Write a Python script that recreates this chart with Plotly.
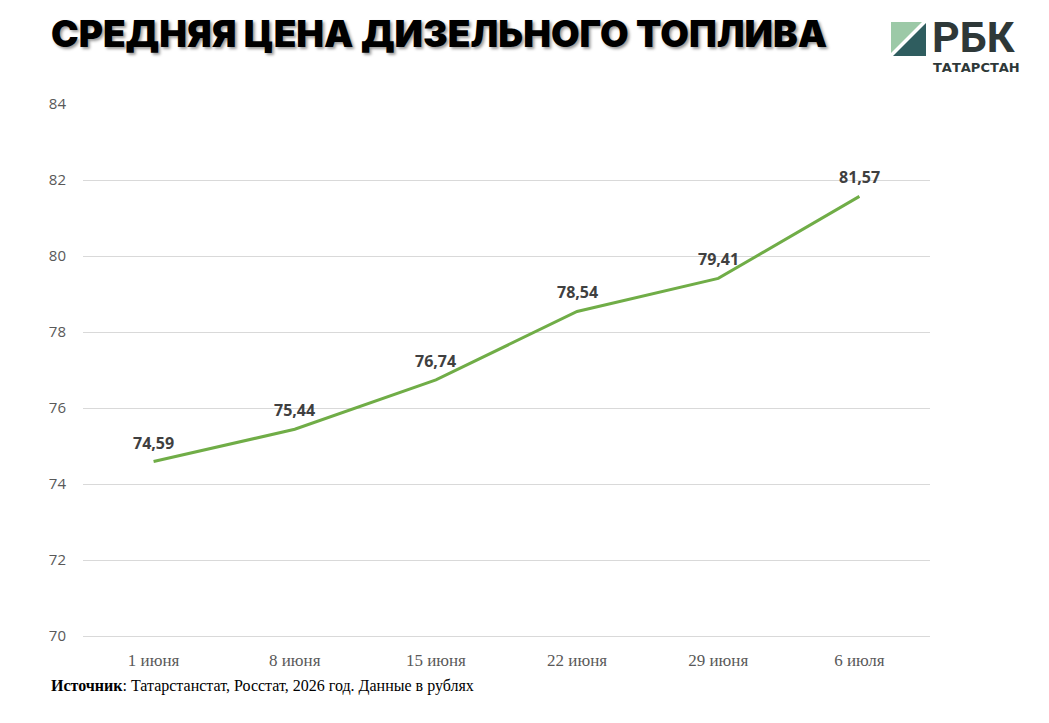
import plotly.graph_objects as go

# data
dates = ["1 июня", "8 июня", "15 июня", "22 июня", "29 июня", "6 июля"]
prices = [74.59, 75.44, 76.74, 78.54, 79.41, 81.57]
y_ticks = [70, 72, 74, 76, 78, 80, 82, 84]

# page offset (html body margin) and plot box in window pixels
OFF = 8
W, H = 1049, 723
L, R, T, B = 83, 930, 104, 636


def px_x(x):
    return (x - L) / (R - L)


def px_y(y):
    return 1 - (y - T) / (B - T)


fig = go.Figure()

fig.add_trace(go.Scatter(
    x=dates, y=prices, mode="lines",
    line=dict(color="#70AD47", width=3),
    hoverinfo="skip", showlegend=False,
))

# value labels above the points
for d, p in zip(dates, prices):
    fig.add_annotation(
        x=d, y=p, xref="x", yref="y", showarrow=False, yshift=19,
        text=f"{p:.2f}".replace(".", ","),
        font=dict(family="Open Sans", size=16, color="#404040", weight="bold"),
    )

# title
fig.add_annotation(
    x=px_x(49), y=px_y(33), xref="paper", yref="paper",
    text="СРЕДНЯЯ ЦЕНА ДИЗЕЛЬНОГО ТОПЛИВА",
    showarrow=False, xanchor="left", yanchor="middle",
    font=dict(family="Inter", size=37, color="black", weight=900,
              shadow="2px 2px 3px #9a9a9a"),
)

# source line
fig.add_annotation(
    x=px_x(49), y=px_y(686), xref="paper", yref="paper",
    text="<b>Источник</b>: Татарстанстат, Росстат, 2026 год. Данные в рублях",
    showarrow=False, xanchor="left", yanchor="middle",
    font=dict(family="Liberation Serif", size=16, color="black"),
)

# logo
def path(points):
    s = "M " + " L ".join(f"{px_x(a):.5f} {px_y(b):.5f}" for a, b in points)
    return s + " Z"


fig.add_shape(type="path", path=path([(891, 22), (922, 22), (891, 53)]),
              fillcolor="#9CC9A7", line_width=0, xref="paper", yref="paper")
fig.add_shape(type="path", path=path([(926, 23), (926, 56), (893, 56)]),
              fillcolor="#2F5D5F", line_width=0, xref="paper", yref="paper")
fig.add_annotation(
    x=px_x(930), y=px_y(37), xref="paper", yref="paper", text="РБК",
    showarrow=False, xanchor="left", yanchor="middle",
    font=dict(family="Roboto", size=43, color="#2E3838", weight="bold"),
)
fig.add_annotation(
    x=px_x(976), y=px_y(68), xref="paper", yref="paper", text="ТАТАРСТАН",
    showarrow=False, xanchor="center", yanchor="middle",
    font=dict(family="DejaVu Sans", size=13, color="#2E3838", weight="bold"),
)

fig.update_layout(
    width=W, height=H,
    margin=dict(l=L - OFF, r=W + OFF - R, t=T - OFF, b=H + OFF - B),
    paper_bgcolor="white", plot_bgcolor="white",
    showlegend=False,
    xaxis=dict(
        type="category", range=[-0.5, 5.5], showgrid=False, zeroline=False,
        showline=True, linecolor="#D9D9D9", linewidth=1, ticks="",
        tickfont=dict(family="Liberation Serif", size=17, color="#595959"),
        ticklabelstandoff=9,
    ),
    yaxis=dict(
        range=[70, 84], tickvals=y_ticks, showgrid=True, gridcolor="#D9D9D9",
        gridwidth=1, zeroline=False, showline=False, ticks="",
        tickfont=dict(family="Open Sans", size=15, color="#595959"),
        ticklabelstandoff=16,
    ),
)

fig.write_html("out.html")
